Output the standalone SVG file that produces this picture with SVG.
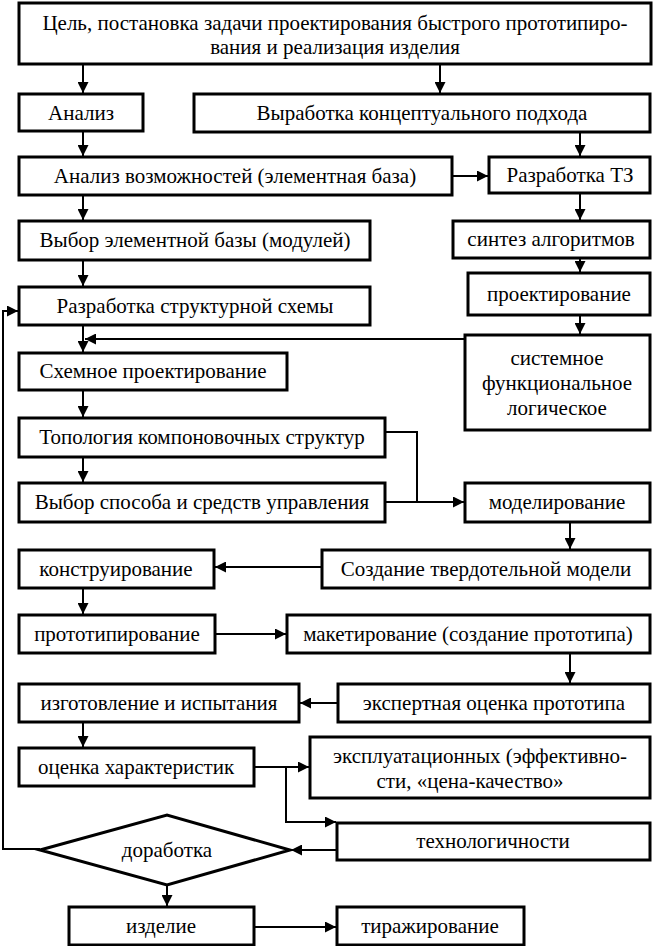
<svg xmlns="http://www.w3.org/2000/svg" width="653" height="946" viewBox="0 0 653 946">
<style>
.b{fill:#fff;stroke:#000;stroke-width:3}
.t{font-family:"Liberation Serif","Times New Roman",serif;font-size:21px;fill:#000;text-anchor:middle}
.c{fill:none;stroke:#000;stroke-width:2}
</style>
<defs>
<marker id="a" viewBox="0 0 10 10" refX="10" refY="5" markerWidth="11" markerHeight="11" markerUnits="userSpaceOnUse" orient="auto">
<path d="M0,0 L10,5 L0,10 z" fill="#000"/>
</marker>
</defs>
<rect width="653" height="946" fill="#fff"/>
<g id="connectors">
<path class="c" d="M83,64 V93" marker-end="url(#a)"/>
<path class="c" d="M440,64 V93" marker-end="url(#a)"/>
<path class="c" d="M83,131 V156" marker-end="url(#a)"/>
<path class="c" d="M580,132 V156" marker-end="url(#a)"/>
<path class="c" d="M452,176 H488" marker-end="url(#a)"/>
<path class="c" d="M83,195 V220" marker-end="url(#a)"/>
<path class="c" d="M580,193 V220" marker-end="url(#a)"/>
<path class="c" d="M580,258 V272" marker-end="url(#a)"/>
<path class="c" d="M83,260 V286" marker-end="url(#a)"/>
<path class="c" d="M580,315 V334" marker-end="url(#a)"/>
<path class="c" d="M465,339 H85" marker-end="url(#a)"/>
<path class="c" d="M83,325 V352" marker-end="url(#a)"/>
<path class="c" d="M83,390 V417" marker-end="url(#a)"/>
<path class="c" d="M83,457 V482" marker-end="url(#a)"/>
<path class="c" d="M385,432 H417 V502"/>
<path class="c" d="M385,502 H464" marker-end="url(#a)"/>
<path class="c" d="M570,522 V549" marker-end="url(#a)"/>
<path class="c" d="M322,567 H215" marker-end="url(#a)"/>
<path class="c" d="M83,588 V614" marker-end="url(#a)"/>
<path class="c" d="M215,634 H286" marker-end="url(#a)"/>
<path class="c" d="M570,653 V683" marker-end="url(#a)"/>
<path class="c" d="M338,703 H300" marker-end="url(#a)"/>
<path class="c" d="M83,722 V747" marker-end="url(#a)"/>
<path class="c" d="M254,767 H309" marker-end="url(#a)"/>
<path class="c" d="M286,767 V822 H336" marker-end="url(#a)"/>
<path class="c" d="M337,850 H291" marker-end="url(#a)"/>
<path class="c" d="M40,849 H3 V311 H18" marker-end="url(#a)"/>
<path class="c" d="M167,885 V906" marker-end="url(#a)"/>
<path class="c" d="M254,927 H336" marker-end="url(#a)"/>
</g>
<g id="goal"><rect class="b" x="19" y="3" width="632" height="61"/><text class="t" x="335" y="30">Цель, постановка задачи проектирования быстрого прототипиро-</text><text class="t" x="335" y="54">вания и реализация изделия</text></g>
<g id="analysis"><rect class="b" x="19" y="94" width="124" height="37"/><text class="t" x="81" y="120">Анализ</text></g>
<g id="concept"><rect class="b" x="194" y="94" width="456" height="38"/><text class="t" x="422" y="120">Выработка концептуального подхода</text></g>
<g id="capabilities"><rect class="b" x="19" y="157" width="433" height="38"/><text class="t" x="235" y="183">Анализ возможностей (элементная база)</text></g>
<g id="tz"><rect class="b" x="489" y="157" width="161" height="36"/><text class="t" x="570" y="182">Разработка ТЗ</text></g>
<g id="elements"><rect class="b" x="19" y="221" width="351" height="39"/><text class="t" x="195" y="247">Выбор элементной базы (модулей)</text></g>
<g id="synthesis"><rect class="b" x="453" y="221" width="197" height="37"/><text class="t" x="551" y="246">синтез алгоритмов</text></g>
<g id="design"><rect class="b" x="468" y="273" width="182" height="42"/><text class="t" x="559" y="301">проектирование</text></g>
<g id="structure"><rect class="b" x="19" y="287" width="351" height="38"/><text class="t" x="195" y="313">Разработка структурной схемы</text></g>
<g id="system"><rect class="b" x="465" y="335" width="185" height="95"/><text class="t" x="557" y="365">системное</text><text class="t" x="557" y="390">функциональное</text><text class="t" x="557" y="415">логическое</text></g>
<g id="circuit"><rect class="b" x="19" y="353" width="268" height="37"/><text class="t" x="153" y="378">Схемное проектирование</text></g>
<g id="topology"><rect class="b" x="19" y="418" width="366" height="39"/><text class="t" x="202" y="444">Топология компоновочных структур</text></g>
<g id="control"><rect class="b" x="19" y="483" width="366" height="39"/><text class="t" x="202" y="509">Выбор способа и средств управления</text></g>
<g id="modeling"><rect class="b" x="465" y="483" width="185" height="39"/><text class="t" x="557" y="509">моделирование</text></g>
<g id="solid"><rect class="b" x="322" y="550" width="328" height="38"/><text class="t" x="486" y="576">Создание твердотельной модели</text></g>
<g id="construct"><rect class="b" x="19" y="550" width="195" height="38"/><text class="t" x="116" y="576">конструирование</text></g>
<g id="prototyping"><rect class="b" x="19" y="615" width="196" height="38"/><text class="t" x="117" y="641">прототипирование</text></g>
<g id="mockup"><rect class="b" x="287" y="615" width="363" height="38"/><text class="t" x="468" y="641">макетирование (создание прототипа)</text></g>
<g id="expert"><rect class="b" x="338" y="684" width="312" height="38"/><text class="t" x="494" y="710">экспертная оценка прототипа</text></g>
<g id="manufacture"><rect class="b" x="19" y="684" width="280" height="38"/><text class="t" x="159" y="710">изготовление и испытания</text></g>
<g id="evaluation"><rect class="b" x="19" y="748" width="235" height="38"/><text class="t" x="136" y="774">оценка характеристик</text></g>
<g id="operational"><rect class="b" x="310" y="737" width="340" height="61"/><text class="t" x="480" y="763">эксплуатационных (эффективно-</text><text class="t" x="470" y="788">сти, «цена-качество»</text></g>
<g id="manufacturability"><rect class="b" x="337" y="823" width="313" height="37"/><text class="t" x="493" y="848">технологичности</text></g>
<g id="rework"><polygon class="b" points="40,850 167,815 290,850 167,885"/><text class="t" x="167" y="857">доработка</text></g>
<g id="product"><rect class="b" x="69" y="907" width="185" height="38"/><text class="t" x="161" y="933">изделие</text></g>
<g id="replication"><rect class="b" x="337" y="907" width="187" height="38"/><text class="t" x="430" y="933">тиражирование</text></g>
</svg>
